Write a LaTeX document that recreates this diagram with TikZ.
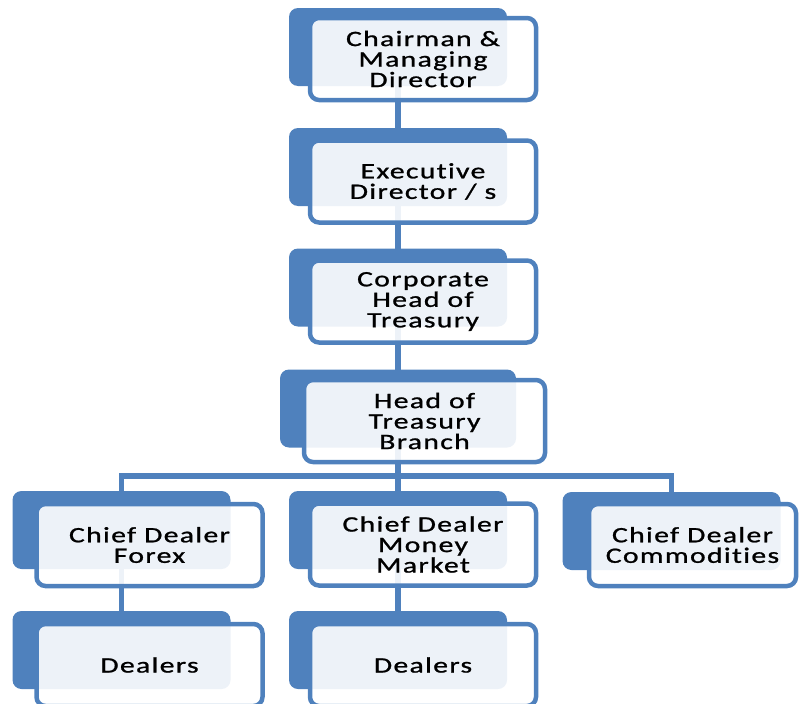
\documentclass[tikz,border=0pt]{standalone}
\usepackage{fontspec}
\setmainfont{Carlito}[FakeStretch=1.35,LetterSpace=6,FakeBold=1,Ligatures={NoCommon}]
\usetikzlibrary{backgrounds}
\definecolor{orgblue}{HTML}{4F81BD}

\begin{document}
\begin{tikzpicture}[
		x=1pt, y=-1pt,
		back/.style={fill=orgblue, rounded corners=9pt, minimum width=218pt, minimum height=78pt, inner sep=0pt},
		card/.style={draw=orgblue, line width=4.5pt, fill=white, fill opacity=0.9, text opacity=1, rounded corners=9pt, align=center, minimum width=226pt, minimum height=82pt, inner sep=0pt, font=\fontsize{22}{20.5}\selectfont},
		link/.style={draw=orgblue, line width=5.5pt}
	]
		\useasboundingbox (0,0) rectangle (801,704);
		\node[back] (chairB) at (398,47) {};
		\node[card] (chair) at (423,59) {Chairman \&\\Managing\\Director};
		\node[back] (execB) at (398,167) {};
		\node[card] (exec) at (423,181.5) {Executive\\Director / s};
		\node[back] (corpB) at (398,287.5) {};
		\node[card] (corp) at (423,301.5) {Corporate\\Head of\\Treasury};
		\node[back, minimum width=236pt] (branchB) at (398,408.5) {};
		\node[card, minimum width=241pt] (branch) at (424.5,421) {Head of\\Treasury\\Branch};
		\node[back] (forexB) at (121.5,530) {};
		\node[card] (forex) at (149.5,545) {Chief Dealer\\Forex};
		\node[back] (moneyB) at (398,530) {};
		\node[card] (money) at (423,544.5) {Chief Dealer\\Money\\Market};
		\node[back] (commB) at (671.5,531) {};
		\node[card, minimum width=207pt] (comm) at (692.5,545) {Chief Dealer\\Commodities};
		\node[back] (dealFxB) at (121.5,650) {};
		\node[card] (dealFx) at (149.5,665) {Dealers};
		\node[back] (dealMmB) at (398,650) {};
		\node[card] (dealMm) at (423,665) {Dealers};
		\coordinate (bus) at (398,476);
		\begin{pgfonlayer}{background}
			\draw[link] (chairB.center) -- (execB.center);
			\draw[link] (execB.center) -- (corpB.center);
			\draw[link] (corpB.center) -- (branchB.center);
			\draw[link] (branchB.center) -- (bus);
			\draw[link] (forexB.center) |- (bus) -| (commB.center);
			\draw[link] (bus) -- (moneyB.center);
			\draw[link] (forexB.center) -- (dealFxB.center);
			\draw[link] (moneyB.center) -- (dealMmB.center);
		\end{pgfonlayer}
	\end{tikzpicture}
\end{document}
